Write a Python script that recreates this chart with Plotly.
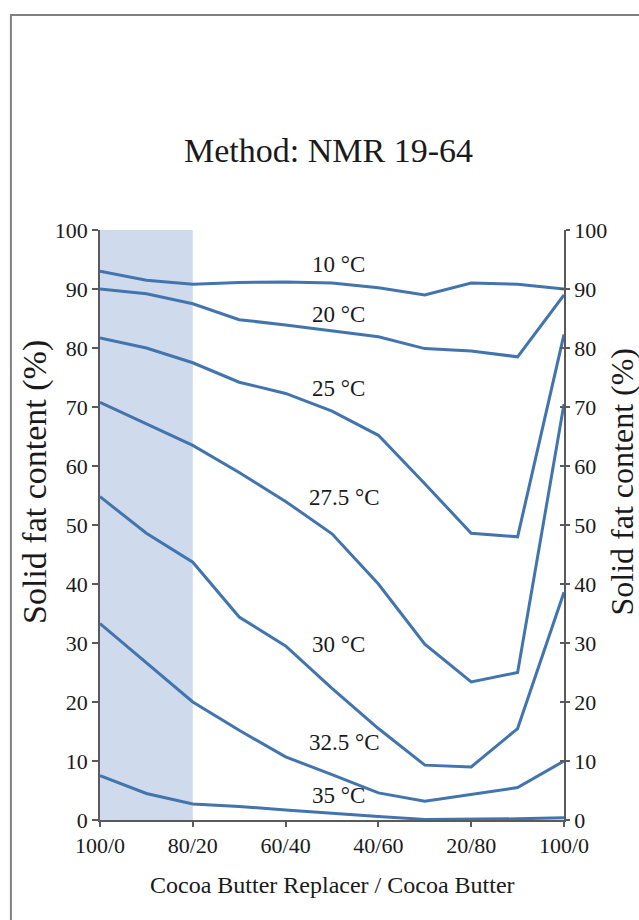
import plotly.graph_objects as go

# Blend ratio: share of cocoa butter replacer (%) in the fat blend
cbr_share = [100, 90, 80, 70, 60, 50, 40, 30, 20, 10, 0]
tick_vals = [100, 80, 60, 40, 20, 0]
tick_text = ["100/0", "80/20", "60/40", "40/60", "20/80", "100/0"]

# Solid fat content (%) measured by NMR at each temperature
sfc_10 = [93.0, 91.5, 90.8, 91.1, 91.2, 91.0, 90.2, 89.0, 91.0, 90.8, 90.0]
sfc_20 = [90.0, 89.2, 87.5, 84.8, 83.9, 82.9, 81.9, 79.9, 79.5, 78.5, 89.0]
sfc_25 = [81.7, 80.0, 77.5, 74.2, 72.3, 69.3, 65.2, 57.0, 48.6, 48.0, 82.3]
sfc_275 = [70.8, 67.2, 63.5, 58.9, 54.0, 48.5, 40.0, 29.8, 23.4, 25.0, 70.5]
sfc_30 = [54.8, 48.6, 43.7, 34.4, 29.5, 22.3, 15.5, 9.3, 9.0, 15.5, 38.6]
sfc_325 = [33.3, 26.7, 20.0, 15.2, 10.7, 7.7, 4.6, 3.2, 4.3, 5.5, 10.0]
sfc_35 = [7.5, 4.5, 2.7, 2.3, 1.7, 1.1, 0.6, 0.1, 0.1, 0.2, 0.4]

series = [sfc_10, sfc_20, sfc_25, sfc_275, sfc_30, sfc_325, sfc_35]
temp_labels = ["10 °C", "20 °C", "25 °C", "27.5 °C", "30 °C", "32.5 °C", "35 °C"]
label_x = [48.7, 48.7, 48.7, 47.4, 48.7, 47.4, 48.7]
label_y = [94.1, 85.7, 73.2, 54.7, 29.8, 13.1, 4.2]

# All three y axes share the same 0-100 scale; spreading the curves over
# them makes plotly draw the right-hand axis and its crossing ticks.
axis_of = ["y", "y", "y", "y", "y", "y3", "y2"]

LINE = "#4274ad"
AXIS = "#5a5a5a"
TXT = "#1a1a1a"
FONT = "Liberation Serif"

fig = go.Figure()
for vals, ax in zip(series, axis_of):
    fig.add_trace(go.Scatter(
        x=cbr_share, y=vals, mode="lines", yaxis=ax,
        line=dict(color=LINE, width=3),
        showlegend=False, hoverinfo="x+y",
    ))

# Shaded region for replacer-rich blends (100/0 to 80/20)
fig.add_shape(type="rect", xref="x", yref="y", x0=100, x1=80, y0=0, y1=100,
              fillcolor="#cfdbec", line=dict(width=0), layer="below")

# Outer frame around the chart
fig.add_shape(type="rect", xref="paper", yref="paper",
              x0=-0.192, x1=1.25, y0=-0.25, y1=1.3644,
              line=dict(color="#808080", width=2), fillcolor="rgba(0,0,0,0)")

annotations = [
    dict(text="Method: NMR 19-64", xref="paper", yref="paper", x=0.4935, y=1.134,
         showarrow=False, xanchor="center", yanchor="middle",
         font=dict(family=FONT, size=34, color=TXT)),
    dict(text="Solid fat content (%)", xref="paper", yref="paper", x=-0.140, y=0.573,
         textangle=-90, showarrow=False, xanchor="center", yanchor="middle",
         font=dict(family=FONT, size=34, color=TXT)),
    dict(text="Solid fat content (%)", xref="paper", yref="paper", x=1.124, y=0.573,
         textangle=-90, showarrow=False, xanchor="center", yanchor="middle",
         font=dict(family=FONT, size=32, color=TXT)),
    dict(text="Cocoa Butter Replacer / Cocoa Butter", xref="paper", yref="paper",
         x=0.5, y=-0.11, showarrow=False, xanchor="center", yanchor="middle",
         font=dict(family=FONT, size=24, color=TXT)),
]
for t, xv, yv in zip(temp_labels, label_x, label_y):
    annotations.append(dict(text=t, x=xv, y=yv, xref="x", yref="y", showarrow=False,
                            xanchor="center", yanchor="middle",
                            font=dict(family=FONT, size=23, color=TXT)))

common_y = dict(range=[0, 100], dtick=10, showgrid=False, zeroline=False)

fig.update_layout(
    width=639, height=920,
    margin=dict(l=100, r=75, t=230, b=100),
    paper_bgcolor="white", plot_bgcolor="white",
    showlegend=False,
    annotations=annotations,
    xaxis=dict(range=[100, 0], tickvals=tick_vals, ticktext=tick_text,
               ticks="outside", ticklen=5, tickwidth=1.5, tickcolor=AXIS,
               showline=True, linecolor=AXIS, linewidth=1.5,
               showgrid=False, zeroline=False,
               tickfont=dict(family=FONT, size=22, color=TXT)),
    yaxis=dict(**common_y, ticks="outside", ticklen=6, tickwidth=1.5,
               tickcolor=AXIS, showline=True, linecolor=AXIS, linewidth=1.5,
               tickfont=dict(family=FONT, size=22, color=TXT)),
    yaxis2=dict(**common_y, overlaying="y", side="right",
                ticks="outside", ticklen=4, tickwidth=1.5, tickcolor=AXIS,
                showline=True, linecolor=AXIS, linewidth=1.5,
                tickfont=dict(family=FONT, size=22, color=TXT)),
    yaxis3=dict(**common_y, overlaying="y", side="right",
                ticks="inside", ticklen=4, tickwidth=1.5, tickcolor=AXIS,
                showline=False, showticklabels=False),
)

fig.write_html("out.html")
